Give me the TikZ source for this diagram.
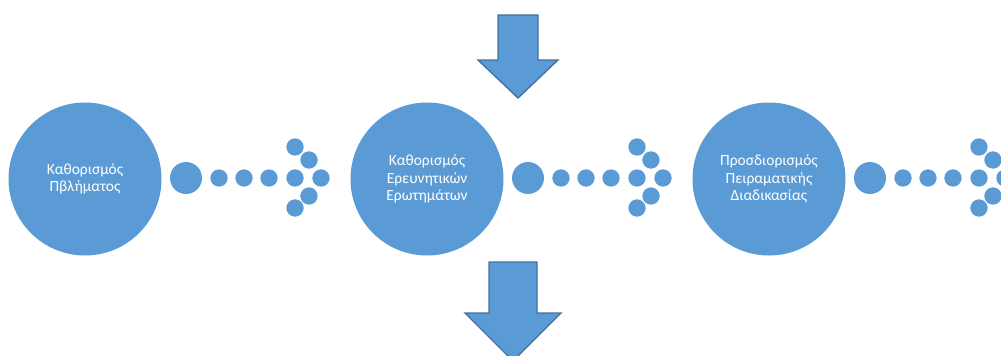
\documentclass[tikz,border=0pt]{standalone}
\usepackage{fontspec}
\setmainfont{Carlito}
\definecolor{officeblue}{HTML}{5B9BD5}
\definecolor{officeline}{HTML}{41719C}

\begin{document}
\begin{tikzpicture}[x=0.75pt, y=-0.75pt,
    stage/.style={circle, fill=officeblue, minimum size=114.75pt, inner sep=0pt,
        text=white, align=center, font=\fontsize{11.6}{13.2}\selectfont},
    bigdot/.style={circle, fill=officeblue, minimum size=24pt, inner sep=0pt},
    dot/.style={circle, fill=officeblue, minimum size=13pt, inner sep=0pt},
    blockarrow/.style={fill=officeblue, draw=officeline, line width=1pt}]
    \useasboundingbox (0,0) rectangle (1001,355);

    % Kreise
    \node[stage] (s1) at (85,179) {Καθορισμός\\Πβλήματος};
    \node[stage] (s2) at (427,179) {Καθορισμός\\Ερευνητικών\\Ερωτημάτων};
    \node[stage] (s3) at (769,179) {Προσδιορισμός\\Πειραματικής\\Διαδικασίας};

    % Punktpfeile
    \foreach \i/\x in {1/0, 2/342, 3/684} {
        \node[bigdot] (b\i) at (186+\x,178) {};
        \foreach \j/\px in {1/219, 2/244, 3/269, 4/295, 5/321}
            \node[dot] (d\i\j) at (\px+\x,178) {};
        % Spitze
        \node[dot] (u\i) at (295+\x,147) {};
        \node[dot] (v\i) at (309+\x,160) {};
        \node[dot] (w\i) at (309+\x,196) {};
        \node[dot] (z\i) at (295+\x,208) {};
    }

    % Blockpfeile
    \draw[blockarrow] (498,15) -- (538,15) -- (538,60) -- (558,60) -- (518,98)
        -- (478,60) -- (498,60) -- cycle;
    \draw[blockarrow] (489,262) -- (537,262) -- (537,313) -- (561,313) -- (513,361)
        -- (465,313) -- (489,313) -- cycle;
\end{tikzpicture}
\end{document}
